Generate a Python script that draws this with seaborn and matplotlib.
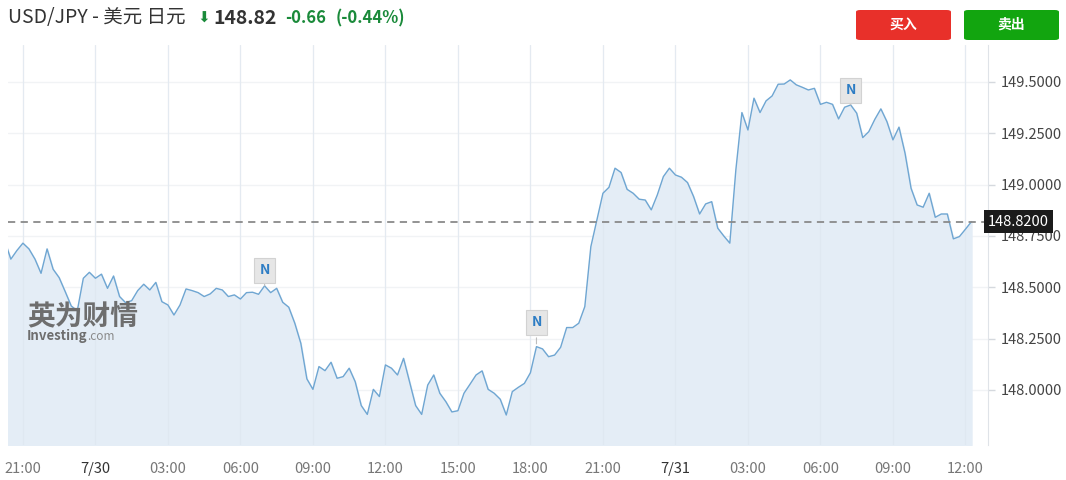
import pandas as pd
import matplotlib
matplotlib.use('Agg')
import matplotlib.pyplot as plt
import matplotlib.transforms as mtransforms
from matplotlib.patches import FancyBboxPatch
import seaborn as sns

# Cotizaciones USD/JPY cada 15 minutos, desde 7/29 20:15 hasta 7/31 12:15
prices = [
    148.726,
    148.637, 148.679, 148.715, 148.687, 148.637, 148.568, 148.687, 148.588, 148.547, 148.479,
    148.409, 148.386, 148.544, 148.573, 148.544, 148.564, 148.495, 148.555, 148.455, 148.425,
    148.435, 148.484, 148.515, 148.487, 148.524, 148.430, 148.414, 148.365, 148.414, 148.492,
    148.484, 148.474, 148.455, 148.468, 148.495, 148.487, 148.455, 148.463, 148.443, 148.474,
    148.476, 148.466, 148.507, 148.474, 148.495, 148.427, 148.403, 148.325, 148.227, 148.054,
    148.003, 148.114, 148.094, 148.135, 148.057, 148.065, 148.106, 148.040, 147.924, 147.881,
    148.003, 147.968, 148.122, 148.106, 148.073, 148.154, 148.040, 147.924, 147.881, 148.024,
    148.073, 147.984, 147.943, 147.893, 147.899, 147.984, 148.028, 148.073, 148.093, 148.003,
    147.984, 147.955, 147.878, 147.992, 148.013, 148.032, 148.084, 148.211, 148.200, 148.162,
    148.170, 148.208, 148.304, 148.304, 148.325, 148.406, 148.698, 148.828, 148.958, 148.987,
    149.080, 149.059, 148.977, 148.958, 148.929, 148.925, 148.877, 148.950, 149.039, 149.080,
    149.047, 149.036, 149.010, 148.942, 148.857, 148.906, 148.917, 148.788, 148.750, 148.715,
    149.072, 149.351, 149.266, 149.421, 149.351, 149.408, 149.432, 149.489, 149.490, 149.510,
    149.486, 149.474, 149.461, 149.469, 149.391, 149.401, 149.391, 149.320, 149.377, 149.388,
    149.348, 149.229, 149.258, 149.318, 149.369, 149.307, 149.218, 149.280, 149.153, 148.982,
    148.901, 148.890, 148.958, 148.841, 148.857, 148.857, 148.736, 148.747, 148.783, 148.820,
]
start_time = '2024-07-29 20:15'

last_price = 148.82
change = '-0.66'
change_pct = '(-0.44%)'

y_ticks = [148.0, 148.25, 148.5, 148.75, 149.0, 149.25, 149.5]
x_tick_labels = ['21:00', '7/30', '03:00', '06:00', '09:00', '12:00', '15:00',
                 '18:00', '21:00', '7/31', '03:00', '06:00', '09:00', '12:00']
news_times = ['2024-07-30 07:00', '2024-07-30 18:15', '2024-07-31 07:15']

times = pd.date_range(start_time, periods=len(prices), freq='15min')
df = pd.DataFrame({'time': times, 'price': prices})
x_ticks = pd.date_range('2024-07-29 21:00', periods=len(x_tick_labels), freq='3h')

sns.set_style('white')
plt.rcParams['font.family'] = ['Noto Sans CJK SC', 'DejaVu Sans']

fig = plt.figure(figsize=(10.66, 4.8), dpi=100)
ax = fig.add_axes([8 / 1066, 35 / 480, 980 / 1066, 400 / 480])

y_bottom = 147.732
ax.fill_between(df['time'], df['price'], y_bottom, color='#e4edf6', zorder=1)
sns.lineplot(data=df, x='time', y='price', ax=ax, color='#6fa6d2', linewidth=1, zorder=3)

ax.set_xlim(pd.Timestamp('2024-07-29 20:23'), pd.Timestamp('2024-07-31 12:56'))
ax.set_ylim(y_bottom, 149.68)

# rejilla
for yt in y_ticks:
    ax.axhline(yt, color='#f1f3f5', linewidth=1, zorder=0)
for xt in x_ticks:
    ax.axvline(xt, color='#f0f2f5', linewidth=1, zorder=0)
    ax.axvline(xt, color='#dde6ef', linewidth=0.8, alpha=0.6, zorder=2)

# línea del último precio
ax.axhline(last_price, color='#8a8a8a', linewidth=1.3, linestyle=(0, (4, 3)), zorder=4)

# ejes
ax.yaxis.tick_right()
ax.set_yticks(y_ticks)
ax.set_yticklabels([f'{v:.4f}' for v in y_ticks])
ax.set_xticks(x_ticks)
ax.set_xticklabels(x_tick_labels)
ax.tick_params(axis='y', labelsize=10.5, labelcolor='#444444', color='#d5d9de',
               length=5, width=1, pad=4)
ax.tick_params(axis='x', labelsize=10.5, labelcolor='#777777', color='#d5d9de',
               length=4, width=1, pad=8)
for lbl in ax.get_xticklabels():
    if '/' in lbl.get_text():
        lbl.set_color('#333333')
ax.set_xlabel('')
ax.set_ylabel('')
for side in ['top', 'left', 'bottom']:
    ax.spines[side].set_visible(False)
ax.spines['right'].set_color('#dfe3e8')

# etiqueta del precio actual
trans = mtransforms.blended_transform_factory(ax.transAxes, ax.transData)
ax.text(1.0, last_price, f'{last_price:.4f}', transform=trans, ha='left', va='center',
        color='white', fontsize=10.5, zorder=6,
        bbox=dict(boxstyle='square,pad=0.3', fc='#1b1b1b', ec='none'))

# marcadores de noticias
offsets = [3, 12, 2]
for t, off in zip(news_times, offsets):
    p = df.loc[df['time'] == pd.Timestamp(t), 'price'].iloc[0]
    ax.annotate('N', xy=(pd.Timestamp(t), p), xytext=(0, off * 0.72 + 4),
                textcoords='offset points', ha='center', va='bottom',
                color='#2e7dc4', fontsize=10, fontweight='bold', zorder=7,
                bbox=dict(boxstyle='square,pad=0.4', fc='#e6e6e6', ec='#d2d2d2', lw=0.8),
                arrowprops=dict(arrowstyle='-', color='#bdbdbd', lw=0.8))

# marca de agua
fig.text(27 / 1066, 1 - 316 / 480, '英为财情', fontsize=20, fontweight='bold',
         color='#6e6e6e', ha='left', va='center')
fig.text(27 / 1066, 1 - 336 / 480, 'Investing', fontsize=9.5, fontweight='bold',
         color='#6e6e6e', ha='left', va='center')
fig.text(87 / 1066, 1 - 337 / 480, '.com', fontsize=8.5, color='#8a8a8a',
         ha='left', va='center')

# cabecera
hy = 1 - 18 / 480
fig.text(8 / 1066, hy, 'USD/JPY - 美元 日元', fontsize=14, color='#333333',
         ha='left', va='center')
fig.text(197 / 1066, hy, '⬇', fontsize=11, color='#1a8a3a', ha='left', va='center',
         family=['DejaVu Sans'])
fig.text(213 / 1066, hy, f'{last_price:.2f}', fontsize=14, fontweight='bold',
         color='#333333', ha='left', va='center')
fig.text(285 / 1066, hy, change, fontsize=12, fontweight='bold', color='#1a8a3a',
         ha='left', va='center')
fig.text(336 / 1066, hy, change_pct, fontsize=12, fontweight='bold', color='#1a8a3a',
         ha='left', va='center')

# botones
for x0, col, txt in [(856, '#e8302a', '买入'), (964, '#12a50f', '卖出')]:
    fig.patches.append(FancyBboxPatch((x0 / 1066, 1 - 40 / 480), 95 / 1066, 30 / 480,
                                      boxstyle='round,pad=0,rounding_size=0.004',
                                      transform=fig.transFigure, fc=col, ec='none'))
    fig.text((x0 + 47.5) / 1066, 1 - 25 / 480, txt, fontsize=10, fontweight='bold',
             color='white', ha='center', va='center')

fig.savefig('out.png', dpi=100)
